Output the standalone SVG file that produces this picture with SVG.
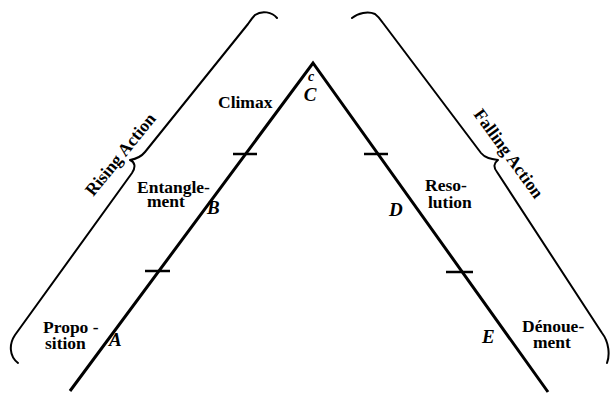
<svg xmlns="http://www.w3.org/2000/svg" width="613" height="393" viewBox="0 0 613 393">
<style>
.ln{stroke:#000;stroke-width:3;fill:none;stroke-linecap:butt}
.tk{stroke:#000;stroke-width:2.5;fill:none}
.br{stroke:#000;stroke-width:2;fill:none;stroke-linecap:round;stroke-linejoin:round}
.lb{font-family:"Liberation Serif","Times New Roman",serif;font-weight:bold;font-size:17.5px;fill:#000}
.pt{font-family:"Liberation Serif","Times New Roman",serif;font-weight:bold;font-style:italic;font-size:19px;fill:#000}
</style>
<rect width="613" height="393" fill="#fff"/>
<g id="connectors">
<path class="ln" d="M70,391 L313,63 L548,392"/>
<path class="tk" d="M233,154 H257"/>
<path class="tk" d="M145,271 H170"/>
<path class="tk" d="M364,154 H388"/>
<path class="tk" d="M446,272 H473"/>
</g>
<g id="rising-brace">
<path class="br" d="M277,18 C272,12 262,10 255,15 C252,18 250,21 248,24 L145,152 C141,157 136,159 130,160 C135,162 136,167 132,173 L15,335 C9,344 9,356 18,363"/>
<text class="lb" transform="translate(125,158) rotate(-51)" text-anchor="middle" font-size="18">Rising Action</text>
</g>
<g id="falling-brace">
<path class="br" d="M352,18 C358,13 368,11 375,14 C379,17 381,20 383,23 L481,153 C485,158 491,159 498,160 C494,163 493,167 497,172 L602,333 C609,342 610,355 607,363"/>
<text class="lb" transform="translate(504,157) rotate(54)" text-anchor="middle" font-size="18">Falling Action</text>
</g>
<g id="climax">
<text class="lb" x="218" y="108">Climax</text>
<text x="311" y="81" text-anchor="middle" style="font-family:'Liberation Serif',serif;font-style:italic;font-weight:bold;font-size:14px">c</text>
<text class="pt" x="310" y="101" text-anchor="middle">C</text>
</g>
<g id="entanglement">
<text class="lb" x="137" y="193">Entangle-</text>
<text class="lb" x="147" y="207">ment</text>
<text class="pt" x="207" y="214">B</text>
</g>
<g id="proposition">
<text class="lb" x="43" y="333">Propo -</text>
<text class="lb" x="45" y="349">sition</text>
<text class="pt" x="109" y="346">A</text>
</g>
<g id="resolution">
<text class="lb" x="425" y="191">Reso-</text>
<text class="lb" x="428" y="208">lution</text>
<text class="pt" x="389" y="216">D</text>
</g>
<g id="denouement">
<text class="lb" x="522" y="332">Dénoue-</text>
<text class="lb" x="533" y="348">ment</text>
<text class="pt" x="482" y="343">E</text>
</g>
</svg>
